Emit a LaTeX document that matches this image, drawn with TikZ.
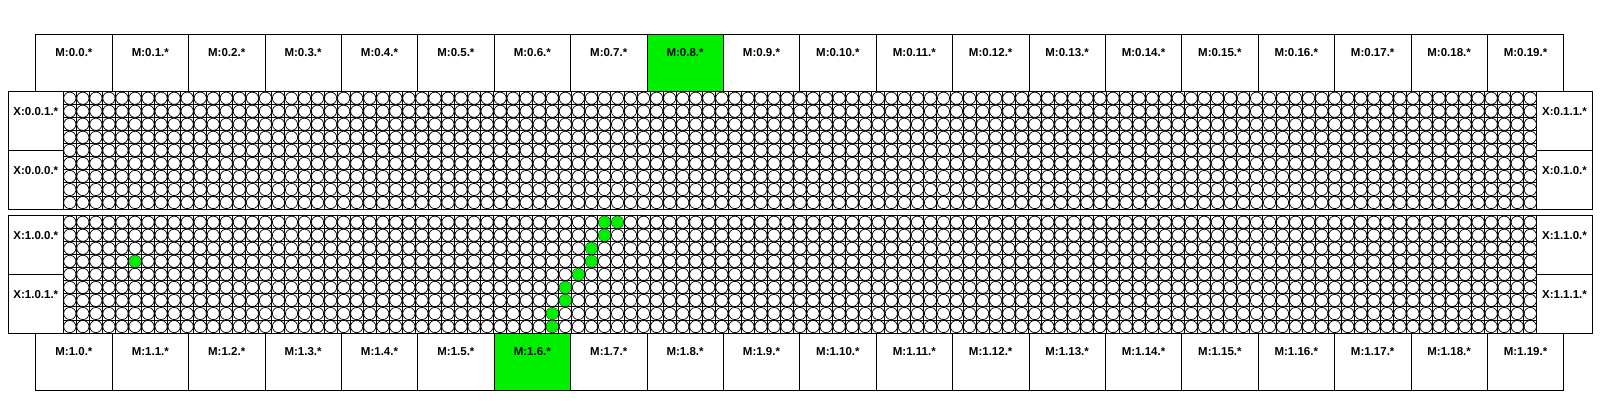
\documentclass[tikz,border=0pt]{standalone}
\usepackage{fontspec}
\setmainfont{Liberation Sans}
\definecolor{chipgreen}{RGB}{0,240,0}
\newcommand{\cellw}{13.04}
\tikzset{
  mbox/.style={draw, line width=0.8pt, minimum width=76.4pt, minimum height=57.3pt, inner sep=0pt,
    text height=22pt, text depth=35.3pt, font=\bfseries\fontsize{11.5}{12}\selectfont},
  xbox/.style={draw, line width=0.8pt, minimum width=55pt, minimum height=58.68pt, inner sep=0pt,
    text height=24pt, text depth=34.68pt, font=\bfseries\fontsize{11.5}{12}\selectfont},
  cellline/.style={line width=1pt},
  site/.style={draw, line width=0.7pt, fill=white},
  hitsite/.style={fill=chipgreen}
}

\begin{document}
\begin{tikzpicture}[x=1pt,y=1pt,yscale=-1]
\useasboundingbox (0,0) rectangle (1600,400);
% the two site blocks
\foreach \ytop in {91.7,215.7}{
  \foreach \c in {0,...,113} \draw[cellline] ({63.3+\cellw*\c},\ytop) -- ++(0,117.36);
  \foreach \r in {0,...,9} \draw[cellline] (63.3,{\ytop+\cellw*\r}) -- ++(1473.4,0);
  \foreach \c in {0,...,112}
    \foreach \r in {0,...,8}
      \draw[site] ({63.3+\cellw*(\c+0.5)},{\ytop+\cellw*(\r+0.5)}) circle (6.1);
  \draw[line width=0.8pt] (63.3,\ytop) rectangle ++(1473.4,117.36);
}
% hit sites in the lower block
\foreach \c/\r in {5/3,41/0,42/0,41/1,40/2,40/3,39/4,38/5,38/6,37/7,37/8}
  \fill[hitsite] ({63.3+\cellw*(\c+0.5)},{215.7+\cellw*(\r+0.5)}) circle (6.0);
% M boxes
\foreach \i in {0,...,19}{
  \ifnum\i=8 \def\boxcol{chipgreen}\else\def\boxcol{white}\fi
  \node[mbox,fill=\boxcol] (mtop\i) at ({73.9+76.4*\i},63.05) {M:0.\i.*};
  \ifnum\i=6 \def\boxcol{chipgreen}\else\def\boxcol{white}\fi
  \node[mbox,fill=\boxcol] (mbot\i) at ({73.9+76.4*\i},361.7) {M:1.\i.*};
}
% X boxes
\node[xbox] (x001) at (35.8,121.04) {X:0.0.1.*};
\node[xbox] (x000) at (35.8,179.72) {X:0.0.0.*};
\node[xbox,minimum width=55.6pt] (x011) at (1564.5,121.04) {X:0.1.1.*};
\node[xbox,minimum width=55.6pt] (x010) at (1564.5,179.72) {X:0.1.0.*};
\node[xbox] (x100) at (35.8,245.04) {X:1.0.0.*};
\node[xbox] (x101) at (35.8,303.72) {X:1.0.1.*};
\node[xbox,minimum width=55.6pt] (x110) at (1564.5,245.04) {X:1.1.0.*};
\node[xbox,minimum width=55.6pt] (x111) at (1564.5,303.72) {X:1.1.1.*};
\end{tikzpicture}
\end{document}
